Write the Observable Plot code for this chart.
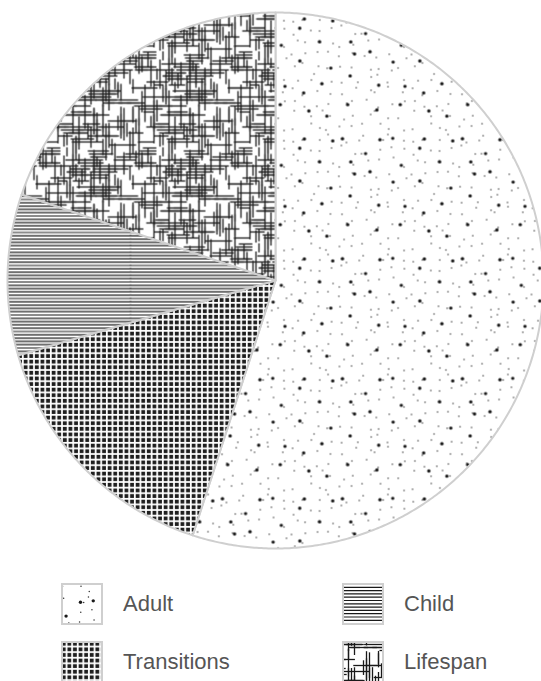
<!DOCTYPE html>
<html>
<head>
<meta charset="utf-8">
<script src="https://cdn.jsdelivr.net/npm/d3@7"></script>
<script src="https://cdn.jsdelivr.net/npm/@observablehq/plot@0.6"></script>
<style>
  body { margin: 0; background: #fff; overflow: hidden; font-family: "Liberation Sans", Arial, Helvetica, sans-serif; }
  #legend { display: grid; grid-template-columns: 281px 200px; row-gap: 16px; padding: 13px 0 0 61px; }
  .item { display: flex; align-items: center; height: 42px; }
  .item svg { margin-right: 20px; flex: none; }
  .item span { font-size: 22px; color: #555; }
</style>
</head>
<body>
<div id="chart"></div>
<div id="legend"></div>
<script>
// Shares of each category (percent), clockwise from 12 o'clock
const categories = ["Adult", "Transitions", "Child", "Lifespan"];
const shares = [55, 15.5, 9.7, 19.8];
// Legend reads row by row, two columns
const legendOrder = ["Adult", "Child", "Transitions", "Lifespan"];

// Build closed slice outlines in unit-circle coordinates
const total = d3.sum(shares);
const points = [];
let acc = 0;
categories.forEach((key, i) => {
  const a0 = (acc / total) * 2 * Math.PI;
  acc += shares[i];
  const a1 = (acc / total) * 2 * Math.PI;
  points.push({key, x: 0, y: 0});
  const n = Math.max(2, Math.ceil((a1 - a0) / (Math.PI / 360)));
  for (let k = 0; k <= n; ++k) {
    const a = a0 + ((a1 - a0) * k) / n;
    points.push({key, x: Math.sin(a), y: Math.cos(a)});
  }
});

const chart = Plot.plot({
  width: 541,
  height: 570,
  margin: 0,
  style: {background: "#fff"},
  x: {domain: [-1, 1], range: [7, 543], axis: null},
  y: {domain: [-1, 1], range: [548, 12], axis: null},
  color: {type: "identity"},
  marks: [
    Plot.line(points, {
      x: "x",
      y: "y",
      z: "key",
      fill: (d) => `url(#pat-${d.key})`,
      stroke: "#cfcfcf",
      strokeWidth: 2,
      strokeLinejoin: "round",
      curve: "linear-closed"
    })
  ]
});
document.getElementById("chart").append(chart);

// Texture fills for the slices and the legend swatches
const defs = d3.select(chart).insert("defs", ":first-child");
// small hash-based generator so textures stay evenly spread and repeatable
let seed = 12345;
const rnd = () => {
  seed = (seed * 1103515245 + 12345) % 2147483648;
  let t = seed ^ (seed >>> 13);
  t = Math.imul(t, 0x5bd1e995) >>> 0;
  t ^= t >>> 15;
  return (t >>> 0) / 4294967296;
};
const uni = (a, b) => a + (b - a) * rnd();

// Adult: scattered dots of two sizes, jittered on a grid
{
  const S = 120;
  const p = defs.append("pattern").attr("id", "pat-Adult")
    .attr("patternUnits", "userSpaceOnUse").attr("width", S).attr("height", S);
  p.append("rect").attr("width", S).attr("height", S).attr("fill", "#fff");
  const small = 12, big = 24;
  for (let gx = 0; gx < S; gx += small)
    for (let gy = 0; gy < S; gy += small)
      p.append("circle").attr("cx", gx + uni(1, small - 1)).attr("cy", gy + uni(1, small - 1))
        .attr("r", 0.75).attr("fill", "#333");
  for (let gx = 0; gx < S; gx += big)
    for (let gy = 0; gy < S; gy += big)
      p.append("circle").attr("cx", gx + uni(3, big - 3)).attr("cy", gy + uni(3, big - 3))
        .attr("r", 1.7).attr("fill", "#1a1a1a");
}

// Transitions: dense grid of dark squares
{
  const S = 5.6;
  const p = defs.append("pattern").attr("id", "pat-Transitions")
    .attr("patternUnits", "userSpaceOnUse").attr("width", S).attr("height", S);
  p.append("rect").attr("width", S).attr("height", S).attr("fill", "#fff");
  p.append("rect").attr("x", 0.8).attr("y", 0.8).attr("width", 3.8).attr("height", 3.8).attr("fill", "#1e1e1e");
}

// Child: fine horizontal rules, with a dotted seam column
{
  const W = 300, H = 3.3 * 100;
  const p = defs.append("pattern").attr("id", "pat-Child")
    .attr("patternUnits", "userSpaceOnUse").attr("width", W).attr("height", H);
  p.append("rect").attr("width", W).attr("height", H).attr("fill", "#fff");
  for (let i = 0; i < 100; ++i)
    p.append("line").attr("x1", 0).attr("x2", W).attr("y1", i * 3.3 + 1).attr("y2", i * 3.3 + 1)
      .attr("stroke", "#1a1a1a").attr("stroke-width", 1.2);
  p.append("line").attr("x1", 130).attr("x2", 130).attr("y1", 0).attr("y2", H)
    .attr("stroke", "#333").attr("stroke-width", 0.9).attr("stroke-dasharray", "1.2 2.1");
}

// Lifespan: tangle of short horizontal and vertical strokes
{
  const S = 96;
  const p = defs.append("pattern").attr("id", "pat-Lifespan")
    .attr("patternUnits", "userSpaceOnUse").attr("width", S).attr("height", S);
  p.append("rect").attr("width", S).attr("height", S).attr("fill", "#fff");
  const seg = (x1, y1, x2, y2) => {
    for (const dx of [-S, 0, S]) for (const dy of [-S, 0, S])
      p.append("line").attr("x1", x1 + dx).attr("y1", y1 + dy).attr("x2", x2 + dx).attr("y2", y2 + dy)
        .attr("stroke", "#1a1a1a").attr("stroke-width", 1.3);
  };
  for (let i = 0; i < 95; ++i) {
    const y = Math.floor(uni(0, S / 3)) * 3 + 0.5;
    const x = uni(0, S), len = uni(9, 30);
    seg(x, y, x + len, y);
  }
  for (let i = 0; i < 95; ++i) {
    const x = Math.floor(uni(0, S / 3)) * 3 + 0.5;
    const y = uni(0, S), len = uni(9, 30);
    seg(x, y, x, y + len);
  }
}

// Legend
const legend = d3.select("#legend");
for (const key of legendOrder) {
  const item = legend.append("div").attr("class", "item");
  const sw = item.append("svg").attr("width", 42).attr("height", 42);
  sw.append("rect").attr("x", 1).attr("y", 1).attr("width", 40).attr("height", 40)
    .attr("fill", `url(#pat-${key})`).attr("stroke", "#cfcfcf").attr("stroke-width", 2);
  item.append("span").text(key);
}
</script>
</body>
</html>
